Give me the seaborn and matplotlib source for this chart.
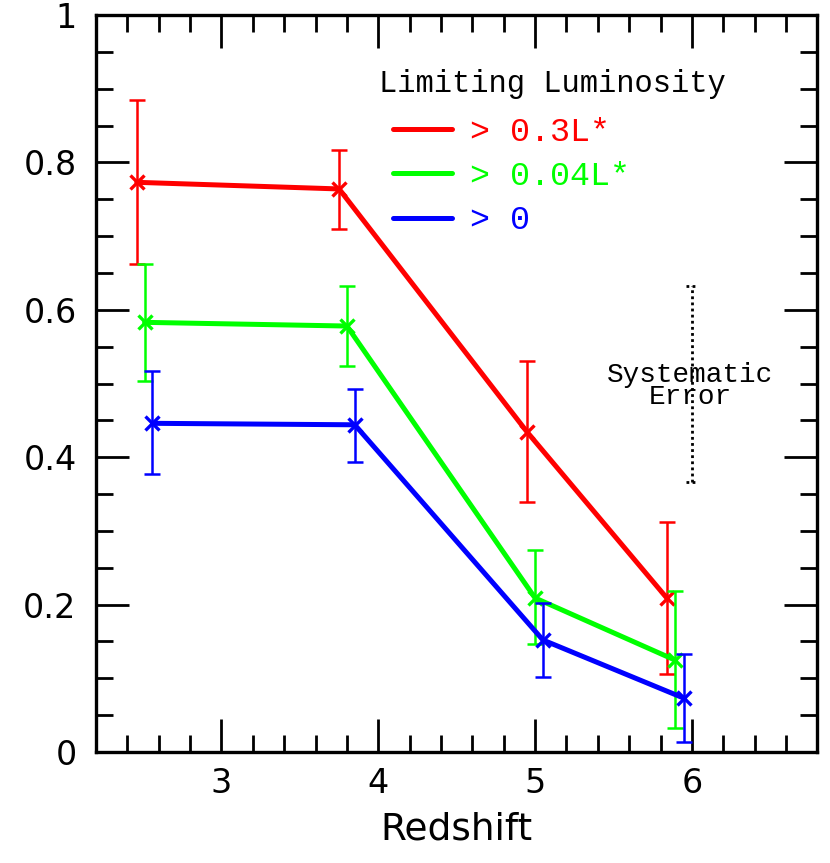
import numpy as np
import pandas as pd
import matplotlib
matplotlib.use("Agg")
import matplotlib.pyplot as plt
from matplotlib.lines import Line2D
import seaborn as sns

# ---- data ----
labels = ["> 0.3L*", "> 0.04L*", "> 0"]
colors = ["#ff0000", "#00ff00", "#0000ff"]

z_red = [2.46, 3.75, 4.95, 5.84]
f_red = [0.773, 0.764, 0.434, 0.209]
hi_red = [0.885, 0.817, 0.530, 0.312]
lo_red = [0.662, 0.710, 0.339, 0.106]

z_green = [2.51, 3.80, 5.00, 5.89]
f_green = [0.583, 0.578, 0.209, 0.125]
hi_green = [0.662, 0.632, 0.274, 0.218]
lo_green = [0.503, 0.524, 0.147, 0.033]

z_blue = [2.56, 3.85, 5.05, 5.95]
f_blue = [0.446, 0.444, 0.152, 0.073]
hi_blue = [0.517, 0.492, 0.202, 0.133]
lo_blue = [0.377, 0.393, 0.102, 0.014]

sys_x = 6.0
sys_lo, sys_hi = 0.366, 0.632

xticks = [3, 4, 5, 6]
yticks = [0, 0.2, 0.4, 0.6, 0.8, 1.0]
yticklabels = ["0", "0.2", "0.4", "0.6", "0.8", "1"]

series = [
    (labels[0], z_red, f_red, lo_red, hi_red),
    (labels[1], z_green, f_green, lo_green, hi_green),
    (labels[2], z_blue, f_blue, lo_blue, hi_blue),
]

rows = []
for lab, zs, fs, los, his in series:
    for z, f, lo, hi in zip(zs, fs, los, his):
        rows.append(dict(z=z, f=f, lo=lo, hi=hi, lim=lab))
df = pd.DataFrame(rows)

sns.set_theme(style="white")
plt.rcParams["font.family"] = ["DejaVu Sans"]
MONO = ["Liberation Mono", "DejaVu Sans Mono"]

fig = plt.figure(figsize=(8.3, 8.63), dpi=100)
ax = fig.add_axes([0.1157, 0.1286, 0.869, 0.854])

for lab, col in zip(labels, colors):
    sub = df[df["lim"] == lab]
    sns.lineplot(data=sub, x="z", y="f", color=col, marker="x", markersize=10,
                 markeredgewidth=2.4, markeredgecolor=col, linewidth=3.6,
                 sort=False, legend=False, ax=ax)
    ax.errorbar(sub["z"], sub["f"],
                yerr=[sub["f"] - sub["lo"], sub["hi"] - sub["f"]],
                fmt="none", ecolor=col, elinewidth=1.8, capsize=6, capthick=1.8)

# systematic error bar (dotted)
ax.vlines(sys_x, sys_lo, sys_hi, colors="black", linestyles=(0, (1, 1.2)), linewidth=2)
ax.hlines([sys_lo, sys_hi], sys_x - 0.035, sys_x + 0.035, colors="black",
          linestyles=(0, (1, 1.2)), linewidth=2)
ax.text(sys_x - 0.01, 0.497, "Systematic\nError", ha="center", va="center",
        fontsize=20, family=MONO, linespacing=0.82, color="black")

# legend
handles = [Line2D([], [], color=c, linewidth=3.6) for c in colors]
leg = ax.legend(handles, labels, loc="upper left", bbox_to_anchor=(0.412, 0.862),
                frameon=False, handlelength=1.75, handletextpad=0.55,
                labelspacing=0.4, borderpad=0, borderaxespad=0,
                prop={"family": MONO, "size": 24}, labelcolor="linecolor")
ax.text(0.392, 0.907, "Limiting Luminosity", transform=ax.transAxes, ha="left",
        va="center", fontsize=22, family=MONO, color="black")

ax.set_xlim(2.2, 6.8)
ax.set_ylim(0, 1)
ax.set_xticks(xticks)
ax.set_xticklabels([str(t) for t in xticks])
ax.set_yticks(yticks)
ax.set_yticklabels(yticklabels)
ax.set_xticks(np.arange(2.2, 6.81, 0.2), minor=True)
ax.set_yticks(np.arange(0, 1.001, 0.05), minor=True)

ax.tick_params(which="both", direction="in", top=True, right=True, bottom=True,
               left=True, colors="black", width=2)
ax.tick_params(which="major", length=24, labelsize=24, pad=14)
ax.tick_params(which="minor", length=12)
ax.tick_params(axis="x", which="major", pad=11)
for s in ax.spines.values():
    s.set_color("black")
    s.set_linewidth(2.4)

ax.set_xlabel("Redshift", fontsize=27, labelpad=8, color="black")
ax.set_ylabel("")

fig.savefig("out.png", dpi=100, facecolor="white")
